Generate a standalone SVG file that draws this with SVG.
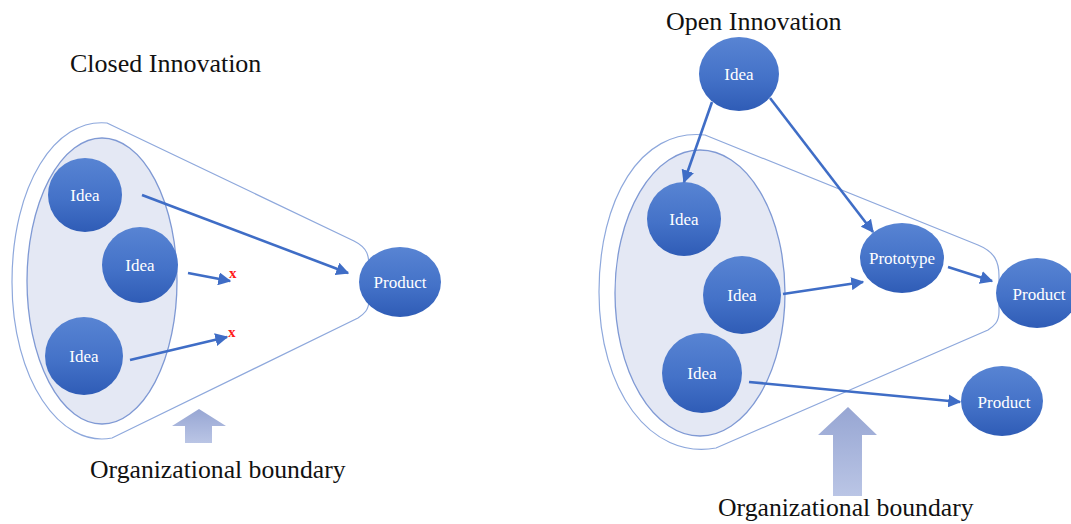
<svg xmlns="http://www.w3.org/2000/svg" width="1071" height="524" viewBox="0 0 1071 524">
  <defs>
    <linearGradient id="nodeFill" x1="0" y1="0" x2="0" y2="1">
      <stop offset="0" stop-color="#5884d3"/>
      <stop offset="0.55" stop-color="#4472c8"/>
      <stop offset="1" stop-color="#2f5cb6"/>
    </linearGradient>
    <linearGradient id="upFill" x1="0" y1="0" x2="0" y2="1">
      <stop offset="0" stop-color="#97a6d3"/>
      <stop offset="1" stop-color="#bac5e5"/>
    </linearGradient>
    <marker id="head" viewBox="0 0 10 10" refX="9" refY="5" markerWidth="5" markerHeight="5" orient="auto" markerUnits="strokeWidth">
      <path d="M0,0 L10,5 L0,10 z" fill="#3f6dc6"/>
    </marker>
    <style>
      .title { font-family: "Liberation Serif", "Times New Roman", serif; font-size: 26px; fill: #111; }
      .label { font-family: "Liberation Serif", "Times New Roman", serif; font-size: 25.7px; fill: #111; }
      .node { fill: url(#nodeFill); }
      .ntext { font-family: "Liberation Serif", "Times New Roman", serif; font-size: 17px; fill: #ffffff; text-anchor: middle; }
      .funnel { fill: none; stroke: #8ea8dc; stroke-width: 1.2; }
      .pool { fill: #e4e8f4; stroke: #7f99d4; stroke-width: 1.3; }
      .edge { stroke: #3f6dc6; stroke-width: 2.6; fill: none; marker-end: url(#head); }
      .reject { font-family: "Liberation Serif", "Times New Roman", serif; font-size: 15px; font-weight: bold; fill: #ff1a1a; }
      .boundary-arrow { fill: url(#upFill); }
    </style>
  </defs>

  <!-- Closed innovation -->
  <text class="title" x="70" y="72">Closed Innovation</text>

  <g id="closed-funnel">
    <path class="funnel" d="M107,123 L354,241 C368,248 369,256 369,268 L369,300 C369,310 364,314 358,318 L112,438 C60,448 12,380 12,282 C12,185 55,118 107,123 Z"/>
    <ellipse class="pool" cx="102" cy="281" rx="75" ry="143"/>
  </g>

  <g id="closed-idea-1"><circle class="node" cx="85" cy="195" r="37"/><text class="ntext" x="85" y="201">Idea</text></g>
  <g id="closed-idea-2"><circle class="node" cx="140" cy="265" r="38"/><text class="ntext" x="140" y="271">Idea</text></g>
  <g id="closed-idea-3"><circle class="node" cx="84" cy="356" r="39"/><text class="ntext" x="84" y="362">Idea</text></g>
  <g id="closed-product"><ellipse class="node" cx="400" cy="282" rx="41" ry="35"/><text class="ntext" x="400" y="288">Product</text></g>

  <g id="closed-connectors">
    <line class="edge" x1="142" y1="195" x2="348" y2="273"/>
    <line class="edge" x1="188" y1="273" x2="230" y2="281"/>
    <line class="edge" x1="130" y1="360" x2="227" y2="337"/>
  </g>
  <text class="reject" x="229" y="278">x</text>
  <text class="reject" x="228" y="337">x</text>

  <g id="closed-boundary">
    <path class="boundary-arrow" d="M199,409 L226,426 L212,426 L212,443 L185,443 L185,426 L172,426 Z"/>
    <text class="label" x="90" y="478">Organizational boundary</text>
  </g>

  <!-- Open innovation -->
  <text class="title" x="666" y="30">Open Innovation</text>

  <g id="open-funnel">
    <path class="funnel" d="M705,135 L978,245 C995,252 999,262 999,276 L999,312 C999,322 994,326 988,330 L716,448 C650,460 599,390 599,292 C599,200 640,128 705,135 Z"/>
    <ellipse class="pool" cx="700" cy="293" rx="85" ry="143"/>
  </g>

  <g id="open-idea-top"><ellipse class="node" cx="739" cy="74" rx="40" ry="37"/><text class="ntext" x="739" y="80">Idea</text></g>
  <g id="open-idea-1"><circle class="node" cx="684" cy="219" r="37"/><text class="ntext" x="684" y="225">Idea</text></g>
  <g id="open-idea-2"><circle class="node" cx="742" cy="295" r="39"/><text class="ntext" x="742" y="301">Idea</text></g>
  <g id="open-idea-3"><circle class="node" cx="702" cy="373" r="40"/><text class="ntext" x="702" y="379">Idea</text></g>
  <g id="open-prototype"><ellipse class="node" cx="902" cy="258" rx="42" ry="35"/><text class="ntext" x="902" y="264">Prototype</text></g>
  <g id="open-product-1"><ellipse class="node" cx="1037" cy="293" rx="41" ry="35"/><text class="ntext" x="1039" y="300">Product</text></g>
  <g id="open-product-2"><ellipse class="node" cx="1002" cy="401" rx="41" ry="35"/><text class="ntext" x="1004" y="408">Product</text></g>

  <g id="open-connectors">
    <line class="edge" x1="712" y1="102" x2="684" y2="182"/>
    <line class="edge" x1="770" y1="98" x2="873" y2="232"/>
    <line class="edge" x1="783" y1="294" x2="863" y2="282"/>
    <line class="edge" x1="948" y1="267" x2="992" y2="281"/>
    <line class="edge" x1="749" y1="382" x2="960" y2="402"/>
  </g>

  <g id="open-boundary">
    <path class="boundary-arrow" d="M848,407 L877,435 L862,435 L862,496 L833,496 L833,435 L818,435 Z"/>
    <text class="label" x="718" y="516">Organizational boundary</text>
  </g>
</svg>
